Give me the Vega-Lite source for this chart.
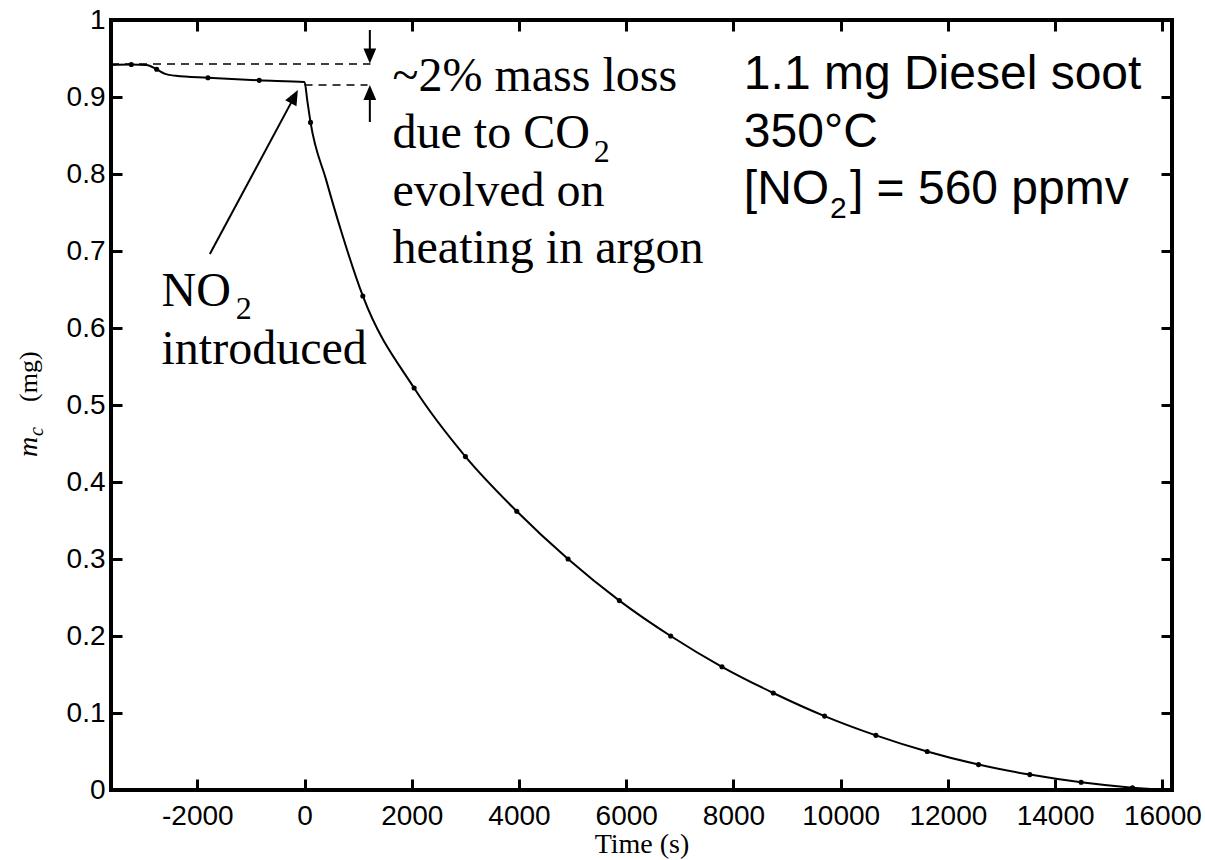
{
  "$schema": "https://vega.github.io/schema/vega-lite/v6.json",
  "width": 1061,
  "height": 770,
  "autosize": {"type": "none"},
  "padding": {"left": 111, "top": 20, "right": 33, "bottom": 70},
  "background": "white",
  "config": {
    "view": {"stroke": "black", "strokeWidth": 4},
    "axis": {
      "domain": false, "grid": false, "tickColor": "black", "tickWidth": 3,
      "labelFont": "Liberation Sans", "labelFontSize": 28, "labelColor": "black",
      "titleFont": "Liberation Serif", "titleFontSize": 28, "titleFontWeight": "normal", "titleColor": "black"
    }
  },
  "datasets": {
    "curve": [
      {"t": -3610, "m": 0.9416}, {"t": -3231, "m": 0.9422}, {"t": -2950, "m": 0.9415}, {"t": -2759, "m": 0.936},
      {"t": -2600, "m": 0.930}, {"t": -2400, "m": 0.9275}, {"t": -1802, "m": 0.925}, {"t": -845, "m": 0.9216},
      {"t": 0, "m": 0.9195}, {"t": 50, "m": 0.896}, {"t": 112, "m": 0.867}, {"t": 400, "m": 0.793},
      {"t": 700, "m": 0.722}, {"t": 1087, "m": 0.6416}, {"t": 2044, "m": 0.522}, {"t": 3001, "m": 0.433},
      {"t": 3958, "m": 0.362}, {"t": 4915, "m": 0.3}, {"t": 5872, "m": 0.246}, {"t": 6829, "m": 0.2},
      {"t": 7786, "m": 0.16}, {"t": 8743, "m": 0.126}, {"t": 9700, "m": 0.096}, {"t": 10657, "m": 0.071},
      {"t": 11614, "m": 0.05}, {"t": 12571, "m": 0.033}, {"t": 13528, "m": 0.02}, {"t": 14485, "m": 0.01},
      {"t": 15442, "m": 0.003}, {"t": 16100, "m": 0.0}
    ],
    "dots": [
      {"t": -3231, "m": 0.9422}, {"t": -2759, "m": 0.936}, {"t": -1802, "m": 0.925}, {"t": -845, "m": 0.9216},
      {"t": 112, "m": 0.867}, {"t": 1087, "m": 0.6416}, {"t": 2044, "m": 0.522}, {"t": 3001, "m": 0.433},
      {"t": 3958, "m": 0.362}, {"t": 4915, "m": 0.3}, {"t": 5872, "m": 0.246}, {"t": 6829, "m": 0.2},
      {"t": 7786, "m": 0.16}, {"t": 8743, "m": 0.126}, {"t": 9700, "m": 0.096}, {"t": 10657, "m": 0.071},
      {"t": 11614, "m": 0.05}, {"t": 12571, "m": 0.033}, {"t": 13528, "m": 0.02}, {"t": 14485, "m": 0.01},
      {"t": 15442, "m": 0.003}
    ],
    "dashes": [
      {"t": -3610, "t2": 1230, "m": 0.943},
      {"t": 0, "t2": 1175, "m": 0.9156}
    ],
    "shafts": [
      {"t": 1218, "m": 0.987, "t2": 1218, "m2": 0.956},
      {"t": 1218, "m": 0.8675, "t2": 1218, "m2": 0.903},
      {"t": -1766, "m": 0.696, "t2": -190, "m2": 0.9005}
    ],
    "headDown": [{"t": 1218, "m": 0.9532}],
    "headUp": [{"t": 1218, "m": 0.9058}],
    "headNO2": [{"t": -190, "m": 0.9005}],
    "serif": [
      {"t": 1641, "m": 0.9082, "label": "~2% mass loss"},
      {"t": 1641, "m": 0.8332, "label": "due to CO"},
      {"t": 1641, "m": 0.7584, "label": "evolved on"},
      {"t": 1641, "m": 0.6844, "label": "heating in argon"},
      {"t": -2668, "m": 0.6286, "label": "NO"},
      {"t": -2668, "m": 0.5532, "label": "introduced"}
    ],
    "serifSub": [
      {"t": 5396, "m": 0.816, "label": "2"},
      {"t": -1282, "m": 0.6117, "label": "2"}
    ],
    "sans": [
      {"t": 8194, "m": 0.91, "label": "1.1 mg Diesel soot"},
      {"t": 8194, "m": 0.8355, "label": "350°C"},
      {"t": 8194, "m": 0.761, "label": "[NO"},
      {"t": 10172, "m": 0.761, "label": "] = 560 ppmv"}
    ],
    "sansSub": [{"t": 9802, "m": 0.7425, "label": "2"}],
    "yM": [{"t": -4993, "m": 0.4325, "label": "m"}],
    "yC": [{"t": -4881, "m": 0.4597, "label": "c"}],
    "yMg": [{"t": -4993, "m": 0.5039, "label": "(mg)"}]
  },
  "layer": [
    {
      "layer": [
        {
          "data": {"name": "curve"},
          "mark": {"type": "line", "color": "black", "strokeWidth": 2, "interpolate": "monotone"},
          "encoding": {
            "x": {"field": "t", "type": "quantitative",
                  "scale": {"domain": [-3610, 16180], "nice": false, "zero": false},
                  "axis": {"orient": "bottom", "ticks": false, "values": [-2000, 0, 2000, 4000, 6000, 8000, 10000, 12000, 14000, 16000],
                           "labelExpr": "'' + datum.value", "labelPadding": 12, "title": "Time (s)", "titlePadding": 0}},
            "y": {"field": "m", "type": "quantitative",
                  "scale": {"domain": [0, 1], "nice": false, "zero": false},
                  "axis": {"orient": "left", "ticks": false, "values": [0, 0.1, 0.2, 0.3, 0.4, 0.5, 0.6, 0.7, 0.8, 0.9, 1],
                           "labelExpr": "'' + datum.value", "labelPadding": 6, "title": null}}
          }
        },
        {
          "data": {"name": "dots"},
          "mark": {"type": "circle", "color": "black", "size": 26, "opacity": 1},
          "encoding": {"x": {"field": "t", "type": "quantitative"}, "y": {"field": "m", "type": "quantitative"}}
        },
        {
          "data": {"name": "dashes"},
          "mark": {"type": "rule", "color": "black", "strokeWidth": 1.5, "strokeDash": [8, 6]},
          "encoding": {"x": {"field": "t", "type": "quantitative"}, "x2": {"field": "t2"}, "y": {"field": "m", "type": "quantitative"}}
        },
        {
          "data": {"name": "shafts"},
          "mark": {"type": "rule", "color": "black", "strokeWidth": 2},
          "encoding": {"x": {"field": "t", "type": "quantitative"}, "x2": {"field": "t2"},
                       "y": {"field": "m", "type": "quantitative"}, "y2": {"field": "m2"}}
        },
        {
          "data": {"name": "headDown"},
          "mark": {"type": "point", "shape": "M0,-1L-0.85,1L0.85,1Z", "filled": true, "color": "black", "opacity": 1, "size": 225, "angle": 180},
          "encoding": {"x": {"field": "t", "type": "quantitative"}, "y": {"field": "m", "type": "quantitative"}}
        },
        {
          "data": {"name": "headUp"},
          "mark": {"type": "point", "shape": "M0,-1L-0.85,1L0.85,1Z", "filled": true, "color": "black", "opacity": 1, "size": 225, "angle": 0},
          "encoding": {"x": {"field": "t", "type": "quantitative"}, "y": {"field": "m", "type": "quantitative"}}
        },
        {
          "data": {"name": "headNO2"},
          "mark": {"type": "point", "shape": "M0,-1L-0.85,1L0.85,1Z", "filled": true, "color": "black", "opacity": 1, "size": 225, "angle": 28},
          "encoding": {"x": {"field": "t", "type": "quantitative"}, "y": {"field": "m", "type": "quantitative"}}
        },
        {
          "data": {"name": "serif"},
          "mark": {"type": "text", "font": "Liberation Serif", "fontSize": 48, "align": "left", "baseline": "alphabetic", "color": "black"},
          "encoding": {"x": {"field": "t", "type": "quantitative"}, "y": {"field": "m", "type": "quantitative"}, "text": {"field": "label"}}
        },
        {
          "data": {"name": "serifSub"},
          "mark": {"type": "text", "font": "Liberation Serif", "fontSize": 32, "align": "left", "baseline": "alphabetic", "color": "black"},
          "encoding": {"x": {"field": "t", "type": "quantitative"}, "y": {"field": "m", "type": "quantitative"}, "text": {"field": "label"}}
        },
        {
          "data": {"name": "sans"},
          "mark": {"type": "text", "font": "Liberation Sans", "fontSize": 48, "align": "left", "baseline": "alphabetic", "color": "black"},
          "encoding": {"x": {"field": "t", "type": "quantitative"}, "y": {"field": "m", "type": "quantitative"}, "text": {"field": "label"}}
        },
        {
          "data": {"name": "sansSub"},
          "mark": {"type": "text", "font": "Liberation Sans", "fontSize": 30, "align": "left", "baseline": "alphabetic", "color": "black"},
          "encoding": {"x": {"field": "t", "type": "quantitative"}, "y": {"field": "m", "type": "quantitative"}, "text": {"field": "label"}}
        },
        {
          "data": {"name": "yM"},
          "mark": {"type": "text", "font": "Liberation Serif", "fontStyle": "italic", "fontSize": 28, "align": "left", "baseline": "alphabetic", "angle": 270, "color": "black"},
          "encoding": {"x": {"field": "t", "type": "quantitative"}, "y": {"field": "m", "type": "quantitative"}, "text": {"field": "label"}}
        },
        {
          "data": {"name": "yC"},
          "mark": {"type": "text", "font": "Liberation Serif", "fontStyle": "italic", "fontSize": 20, "align": "left", "baseline": "alphabetic", "angle": 270, "color": "black"},
          "encoding": {"x": {"field": "t", "type": "quantitative"}, "y": {"field": "m", "type": "quantitative"}, "text": {"field": "label"}}
        },
        {
          "data": {"name": "yMg"},
          "mark": {"type": "text", "font": "Liberation Serif", "fontSize": 26, "align": "left", "baseline": "alphabetic", "angle": 270, "color": "black"},
          "encoding": {"x": {"field": "t", "type": "quantitative"}, "y": {"field": "m", "type": "quantitative"}, "text": {"field": "label"}}
        }
      ]
    },
    {
      "data": {"name": "curve"},
      "mark": {"type": "point", "opacity": 0},
      "encoding": {
        "x": {"field": "t", "type": "quantitative",
              "scale": {"domain": [-3610, 16180], "nice": false, "zero": false},
              "axis": {"orient": "top", "offset": -770, "values": [-2000, 0, 2000, 4000, 6000, 8000, 10000, 12000, 14000, 16000], "labels": false, "tickSize": 11, "title": null}},
        "y": {"field": "m", "type": "quantitative",
              "scale": {"domain": [0, 1], "nice": false, "zero": false},
              "axis": {"orient": "right", "offset": -1061, "values": [0, 0.1, 0.2, 0.3, 0.4, 0.5, 0.6, 0.7, 0.8, 0.9, 1], "labels": false, "tickSize": 11, "title": null}}
      }
    },
    {
      "data": {"name": "curve"},
      "mark": {"type": "point", "opacity": 0},
      "encoding": {
        "x": {"field": "t", "type": "quantitative",
              "scale": {"domain": [-3610, 16180], "nice": false, "zero": false},
              "axis": {"orient": "bottom", "offset": -770, "values": [-2000, 0, 2000, 4000, 6000, 8000, 10000, 12000, 14000, 16000], "labels": false, "tickSize": 11, "title": null}},
        "y": {"field": "m", "type": "quantitative",
              "scale": {"domain": [0, 1], "nice": false, "zero": false},
              "axis": {"orient": "left", "offset": -1061, "values": [0, 0.1, 0.2, 0.3, 0.4, 0.5, 0.6, 0.7, 0.8, 0.9, 1], "labels": false, "tickSize": 11, "title": null}}
      }
    }
  ],
  "resolve": {"axis": {"x": "independent", "y": "independent"}}
}
